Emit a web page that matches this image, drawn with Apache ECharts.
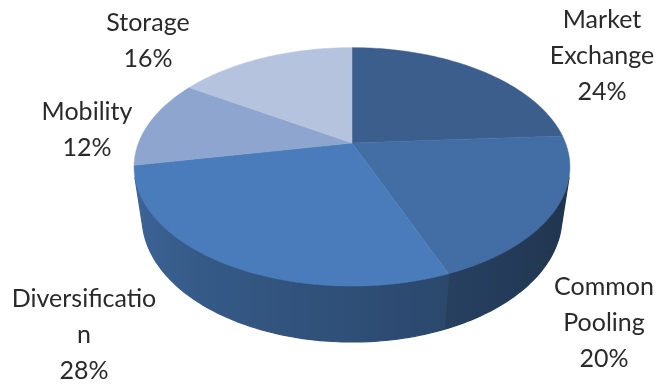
<!DOCTYPE html>
<html><head><meta charset="utf-8">
<script src="https://cdn.jsdelivr.net/npm/echarts@6/dist/echarts.min.js"></script>
<style>html,body{margin:0;padding:0;background:#fff}#c{width:656px;height:387px}</style>
</head><body><div id="c"></div>
<script>
// ---- data ----
const categories = ['Market Exchange', 'Common Pooling', 'Diversification', 'Mobility', 'Storage'];
const values = [24, 20, 28, 12, 16];

// ---- styles / layout (not data) ----
const topColors = ['#3b5e8d', '#436ea5', '#4a7cbb', '#8da5cf', '#b6c3df'];
const labelAnchors = [[602, 2], [604, 269], [84, 281], [87, 94], [148, 5]];
const maxLabelChars = 14;

// perspective camera for the 3D pie
const SINA = 0.536, COSA = 0.844, DIST = 4.22, F = 901, CXF = 352 / 656, CYF = 143 / 387, DEPTH = 0.289;

function proj(W, H, r, thetaDeg, z) {
  const t = thetaDeg * Math.PI / 180;
  const X = r * Math.sin(t), Y = r * Math.cos(t);
  const depth = DIST + Y * COSA - z * SINA;
  const upv = Y * SINA + z * COSA;
  return [CXF * W + F * X / depth, CYF * H - F * upv / depth];
}
function shade(hex, s) {
  const n = parseInt(hex.slice(1), 16);
  const r = Math.round(((n >> 16) & 255) * s), g = Math.round(((n >> 8) & 255) * s), b = Math.round((n & 255) * s);
  return 'rgb(' + r + ',' + g + ',' + b + ')';
}
function wrapLabel(name) {
  const out = [];
  name.split(' ').forEach(w => { for (let k = 0; k < w.length; k += maxLabelChars) out.push(w.slice(k, k + maxLabelChars)); });
  return out.join('\n');
}
const total = values.reduce((a, b) => a + b, 0);
const visLim = Math.acos(-1 / (DIST * COSA)) * 180 / Math.PI; // ~106.3
const visA = visLim, visB = 360 - visLim;
function wallShade(theta) { // theta in [visA, visB]
  return 0.45 + (theta - visA) / (visB - visA) * 0.37;
}

const chart = echarts.init(document.getElementById('c'), null, { renderer: 'canvas' });
chart.setOption({
  animation: false,
  backgroundColor: '#fff',
  series: [{
    type: 'custom',
    coordinateSystem: 'none',
    data: values.map((v, i) => [i, v]),
    renderItem(params, api) {
      const i = params.dataIndex;
      const W = api.getWidth(), H = api.getHeight();
      let acc = 0; for (let k = 0; k < i; k++) acc += values[k];
      const v = api.value(1);
      const a0 = acc / total * 360, a1 = (acc + v) / total * 360;
      const children = [];
      // wall (only front-facing part)
      const w0 = Math.max(a0, visA), w1 = Math.min(a1, visB);
      if (w1 > w0) {
        const wp = [];
        const steps = Math.max(2, Math.ceil((w1 - w0) / 1));
        for (let s = 0; s <= steps; s++) wp.push(proj(W, H, 1, w0 + (w1 - w0) * s / steps, 0));
        for (let s = steps; s >= 0; s--) wp.push(proj(W, H, 1, w0 + (w1 - w0) * s / steps, -DEPTH));
        const xL = proj(W, H, 1, visB, 0)[0], xR = proj(W, H, 1, visA, 0)[0];
        const stops = [];
        for (let s = 0; s <= 20; s++) {
          const th = visB - (visB - visA) * s / 20;
          const x = proj(W, H, 1, th, 0)[0];
          stops.push({ offset: Math.min(1, Math.max(0, (x - xL) / (xR - xL))), color: shade(topColors[i], wallShade(th)) });
        }
        const grad = new echarts.graphic.LinearGradient(xL, 0, xR, 0, stops, true);
        children.push({
          type: 'polygon', z2: 1,
          shape: { points: wp },
          style: { fill: grad, stroke: grad, lineWidth: 1.2 }
        });
      }
      // top face
      const tp = [proj(W, H, 0, 0, 0)];
      const steps = Math.max(2, Math.ceil((a1 - a0) / 1));
      for (let s = 0; s <= steps; s++) tp.push(proj(W, H, 1, a0 + (a1 - a0) * s / steps, 0));
      children.push({
        type: 'polygon', z2: 10,
        shape: { points: tp },
        style: { fill: topColors[i], stroke: topColors[i], lineWidth: 0.5 }
      });
      // label
      const an = labelAnchors[i];
      children.push({
        type: 'text', z2: 20,
        x: an[0], y: an[1],
        style: {
          text: wrapLabel(categories[i]) + '\n' + Math.round(v / total * 100) + '%',
          fill: '#2a2a2a',
          font: '25px Lato',
          lineHeight: 36,
          align: 'center',
          verticalAlign: 'top'
        }
      });
      return { type: 'group', children };
    }
  }]
});
</script>
</body></html>
